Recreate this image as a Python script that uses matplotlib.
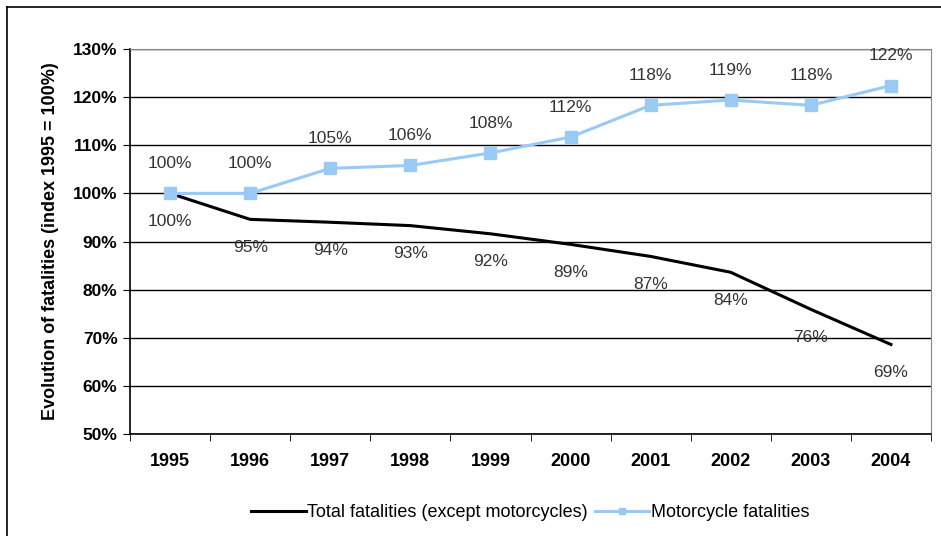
import numpy as np
import matplotlib.pyplot as plt
from matplotlib.lines import Line2D

plt.rcParams['font.family'] = ['Liberation Sans', 'DejaVu Sans']

years = ["1995", "1996", "1997", "1998", "1999", "2000", "2001", "2002", "2003", "2004"]
total = [100.0, 94.6, 94.0, 93.3, 91.6, 89.4, 86.9, 83.6, 75.9, 68.6]
moto = [100.0, 100.0, 105.2, 105.8, 108.4, 111.7, 118.3, 119.4, 118.3, 122.4]
total_labels = ["100%", "95%", "94%", "93%", "92%", "89%", "87%", "84%", "76%", "69%"]
moto_labels = ["100%", "100%", "105%", "106%", "108%", "112%", "118%", "119%", "118%", "122%"]

fig = plt.figure(figsize=(9.41, 5.36), dpi=100)
ax = fig.add_axes([130 / 941, 1 - 434 / 536, (931 - 130) / 941, (434 - 49) / 536])

x = np.arange(len(years))
ax.plot(x, total, color='black', linewidth=2.2, label='Total fatalities (except motorcycles)', zorder=3)
ax.plot(x, moto, color='#99c9f5', linewidth=2.2, marker='s', markersize=8,
        label='Motorcycle fatalities', zorder=4)

for i in range(len(years)):
    ax.annotate(moto_labels[i], (x[i], moto[i]), xytext=(0, 21.5), textcoords='offset points',
                ha='center', va='center', fontsize=12.5, color='#333333')
    ax.annotate(total_labels[i], (x[i], total[i]), xytext=(0, -20), textcoords='offset points',
                ha='center', va='center', fontsize=12.5, color='#333333')

ax.set_xlim(-0.5, 9.5)
ax.set_ylim(50, 130)
ax.set_yticks(np.arange(50, 131, 10))
ax.set_yticklabels([f"{v}%" for v in range(50, 131, 10)], fontweight='bold', fontsize=12.5)
ax.set_xticks(x)
ax.set_xticklabels(years, fontweight='bold', fontsize=13)
ax.set_xticks(np.arange(-0.5, 10, 1), minor=True)
ax.tick_params(axis='x', which='major', length=0, pad=14)
ax.tick_params(axis='x', which='minor', length=5, color='black', direction='out')
ax.tick_params(axis='y', length=5, color='black', direction='out', pad=4)
ax.grid(axis='y', color='black', linewidth=1)
ax.set_axisbelow(True)
for s in ['top', 'right']:
    ax.spines[s].set_color('#888888')
for s in ['left', 'bottom']:
    ax.spines[s].set_color('black')
    ax.spines[s].set_linewidth(1.2)
ax.set_ylabel('Evolution of fatalities (index 1995 = 100%)', fontweight='bold', fontsize=13, labelpad=10)

ax.legend(loc='center', bbox_to_anchor=(0.5, -0.205), ncol=2, frameon=False, fontsize=13,
          handlelength=3.0, handletextpad=0.1, columnspacing=0.4, markerscale=0.6)

# outer frame
fig.add_artist(Line2D([7 / 941, 1], [1 - 7 / 536, 1 - 7 / 536], color='black', linewidth=1.2))
fig.add_artist(Line2D([7 / 941, 7 / 941], [0, 1 - 7 / 536], color='black', linewidth=1.2))

fig.savefig('out.png', dpi=100)
